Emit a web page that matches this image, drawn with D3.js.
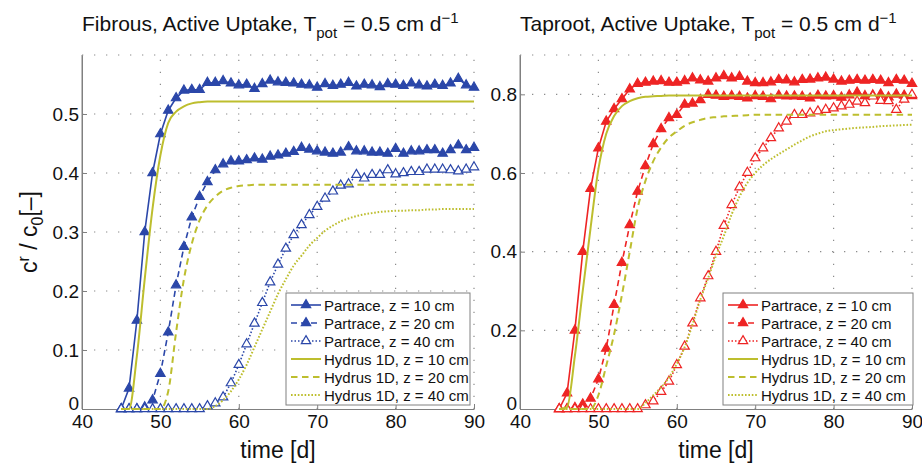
<!DOCTYPE html>
<html>
<head>
<meta charset="utf-8">
<script src="https://cdn.jsdelivr.net/npm/d3@7"></script>
<style>
  body { margin: 0; background: #fff; }
  svg { font-family: "Liberation Sans", Arial, Helvetica, sans-serif; }
</style>
</head>
<body>
<div id="chart"></div>
<script>
// time axis (days) shared by every series
const days = [45, 46, 47, 48, 49, 50, 51, 52, 53, 54, 55, 56, 57, 58, 59, 60, 61, 62, 63, 64, 65, 66, 67,
  68, 69, 70, 71, 72, 73, 74, 75, 76, 77, 78, 79, 80, 81, 82, 83, 84, 85, 86, 87, 88, 89, 90];

// Fibrous, Partrace
const pL10 = [0, 0.035, 0.15, 0.30, 0.40, 0.466, 0.506, 0.527, 0.540, 0.541, 0.541, 0.553, 0.553, 0.556, 0.552,
  0.549, 0.550, 0.543, 0.551, 0.557, 0.554, 0.553, 0.552, 0.550, 0.549, 0.545, 0.551, 0.548, 0.550, 0.553, 0.547,
  0.550, 0.549, 0.546, 0.551, 0.550, 0.548, 0.552, 0.549, 0.547, 0.550, 0.548, 0.552, 0.560, 0.549, 0.545];
const pL20 = [0, 0, 0, 0.003, 0.015, 0.06, 0.13, 0.21, 0.275, 0.325, 0.36, 0.385, 0.405, 0.415, 0.42, 0.42, 0.422,
  0.425, 0.423, 0.428, 0.43, 0.433, 0.436, 0.443, 0.44, 0.437, 0.435, 0.433, 0.435, 0.444, 0.437, 0.437, 0.435,
  0.435, 0.433, 0.441, 0.433, 0.437, 0.437, 0.439, 0.439, 0.433, 0.439, 0.447, 0.439, 0.443];
const pL40 = [0, 0, 0, 0, 0, 0, 0, 0, 0, 0, 0, 0.005, 0.01, 0.02, 0.044, 0.075, 0.11, 0.145, 0.18, 0.215, 0.245,
  0.272, 0.295, 0.312, 0.329, 0.343, 0.357, 0.369, 0.379, 0.381, 0.397, 0.391, 0.397, 0.397, 0.405, 0.398, 0.40,
  0.402, 0.402, 0.406, 0.406, 0.406, 0.405, 0.403, 0.406, 0.41];
// Fibrous, Hydrus 1D
const hL10 = [0, 0, 0.09, 0.22, 0.34, 0.43, 0.485, 0.504, 0.513, 0.518, 0.52, 0.521, 0.521, 0.521, 0.521, 0.521,
  0.521, 0.521, 0.521, 0.521, 0.521, 0.521, 0.521, 0.521, 0.521, 0.521, 0.521, 0.521, 0.521, 0.521, 0.521, 0.521,
  0.521, 0.521, 0.521, 0.521, 0.521, 0.521, 0.521, 0.521, 0.521, 0.521, 0.521, 0.521, 0.521, 0.521];
const hL20 = [0, 0, 0, 0, 0, 0, 0.03, 0.13, 0.22, 0.28, 0.32, 0.345, 0.36, 0.37, 0.375, 0.378, 0.379, 0.38, 0.38,
  0.38, 0.38, 0.38, 0.38, 0.38, 0.38, 0.38, 0.38, 0.38, 0.38, 0.38, 0.38, 0.38, 0.38, 0.38, 0.38, 0.38, 0.38, 0.38,
  0.38, 0.38, 0.38, 0.38, 0.38, 0.38, 0.38, 0.38];
const hL40 = [0, 0, 0, 0, 0, 0, 0, 0, 0, 0, 0, 0, 0.005, 0.015, 0.03, 0.05, 0.075, 0.105, 0.135, 0.165, 0.195,
  0.22, 0.243, 0.26, 0.277, 0.29, 0.302, 0.311, 0.318, 0.323, 0.327, 0.33, 0.332, 0.334, 0.335, 0.336, 0.336,
  0.337, 0.337, 0.338, 0.338, 0.339, 0.339, 0.339, 0.339, 0.339];

// Taproot, Partrace
const pR10 = [0, 0.04, 0.2, 0.4, 0.56, 0.663, 0.731, 0.763, 0.788, 0.813, 0.827, 0.83, 0.833, 0.834, 0.83, 0.83,
  0.834, 0.841, 0.836, 0.833, 0.841, 0.847, 0.841, 0.845, 0.833, 0.829, 0.829, 0.831, 0.837, 0.836, 0.831, 0.837,
  0.838, 0.841, 0.843, 0.838, 0.833, 0.835, 0.837, 0.835, 0.837, 0.835, 0.829, 0.837, 0.835, 0.827];
const pR20 = [0, 0, 0.003, 0.012, 0.027, 0.076, 0.154, 0.265, 0.372, 0.468, 0.553, 0.618, 0.674, 0.712, 0.74,
  0.748, 0.774, 0.777, 0.786, 0.799, 0.797, 0.794, 0.796, 0.794, 0.79, 0.796, 0.794, 0.788, 0.797, 0.795, 0.795,
  0.794, 0.79, 0.797, 0.795, 0.796, 0.792, 0.798, 0.805, 0.796, 0.798, 0.80, 0.793, 0.80, 0.797, 0.796];
const pR40 = [0, 0, 0, 0, 0, 0, 0, 0, 0, 0, 0, 0.01, 0.02, 0.044, 0.07, 0.112, 0.159, 0.218, 0.282, 0.338, 0.40,
  0.466, 0.519, 0.564, 0.601, 0.638, 0.663, 0.689, 0.714, 0.731, 0.748, 0.748, 0.752, 0.757, 0.761, 0.765, 0.77,
  0.774, 0.782, 0.778, 0.795, 0.784, 0.783, 0.761, 0.787, 0.799];
// Taproot, Hydrus 1D
const hR10 = [0, 0.005, 0.135, 0.30, 0.46, 0.61, 0.70, 0.745, 0.77, 0.783, 0.79, 0.794, 0.795, 0.796, 0.797,
  0.797, 0.797, 0.797, 0.797, 0.797, 0.797, 0.797, 0.797, 0.797, 0.797, 0.797, 0.797, 0.797, 0.797, 0.797, 0.797,
  0.797, 0.797, 0.797, 0.797, 0.797, 0.797, 0.797, 0.797, 0.797, 0.797, 0.797, 0.797, 0.797, 0.797, 0.797];
const hR20 = [0, 0, 0, 0, 0, 0.035, 0.11, 0.19, 0.29, 0.40, 0.51, 0.58, 0.63, 0.665, 0.69, 0.706, 0.72, 0.729,
  0.735, 0.74, 0.742, 0.744, 0.745, 0.746, 0.747, 0.748, 0.748, 0.748, 0.748, 0.748, 0.748, 0.748, 0.748, 0.748,
  0.748, 0.748, 0.748, 0.748, 0.748, 0.748, 0.748, 0.748, 0.748, 0.748, 0.748, 0.748];
const hR40 = [0, 0, 0, 0, 0, 0, 0, 0, 0, 0, 0, 0.015, 0.035, 0.055, 0.08, 0.115, 0.157, 0.215, 0.278, 0.333, 0.39,
  0.44, 0.495, 0.54, 0.575, 0.60, 0.62, 0.635, 0.648, 0.66, 0.672, 0.683, 0.693, 0.70, 0.706, 0.709, 0.711, 0.713,
  0.715, 0.716, 0.717, 0.719, 0.72, 0.721, 0.722, 0.723];

const xTicks = [40, 50, 60, 70, 80, 90];
const yTicksL = [0, 0.1, 0.2, 0.3, 0.4, 0.5];
const yTicksR = [0, 0.2, 0.4, 0.6, 0.8];
const depthLabels = ["z = 10 cm", "z = 20 cm", "z = 40 cm"];

const width = 922;
const height = 464;
const plotTop = 55, plotBottom = 409;
const hydrusColor = "#bdbe2e";
const gridColor = "#8c8c8c";
const axisColor = "#808080";
const font = 19;

const svg = d3.select("#chart").append("svg")
  .attr("width", width)
  .attr("height", height);

const panels = [
  { name: "Fibrous", x0: 82, x1: 474, yMax: 0.6, yTicks: yTicksL, color: "#2b47a9",
    partrace: [pL10, pL20, pL40], hydrus: [hL10, hL20, hL40], legend: [286, 470] },
  { name: "Taproot", x0: 520, x1: 912, yMax: 0.9, yTicks: yTicksR, color: "#ee2424",
    partrace: [pR10, pR20, pR40], hydrus: [hR10, hR20, hR40], legend: [723, 913] }
];

const partraceDash = [null, "6,4", "1.5,2"];
const hydrusDash = [null, "6.5,4.5", "1.6,1.8"];
const triangle = d3.symbol(d3.symbolTriangle, 38);

function drawPanel(p) {
  const x = d3.scaleLinear().domain([40, 90]).range([p.x0, p.x1]);
  const y = d3.scaleLinear().domain([0, p.yMax]).range([plotBottom, plotTop]);
  const g = svg.append("g");

  // dotted grid, plus the dotted top and right frame
  g.append("g").selectAll("line")
    .data(xTicks.slice(1))
    .join("line")
    .attr("x1", (d) => x(d)).attr("x2", (d) => x(d))
    .attr("y1", plotBottom).attr("y2", plotTop)
    .attr("stroke", gridColor).attr("stroke-width", 1.2)
    .attr("stroke-dasharray", "1.3,10.7");
  g.append("g").selectAll("line")
    .data(p.yTicks.slice(1).concat([p.yMax]))
    .join("line")
    .attr("x1", p.x0).attr("x2", p.x1)
    .attr("y1", (d) => y(d)).attr("y2", (d) => y(d))
    .attr("stroke", gridColor).attr("stroke-width", 1.2)
    .attr("stroke-dasharray", "1.3,10.7");

  // axes
  const xAxis = g.append("g")
    .attr("transform", `translate(0,${plotBottom})`)
    .call(d3.axisBottom(x).tickValues(xTicks).tickSize(-5).tickSizeOuter(0).tickPadding(6));
  const yAxis = g.append("g")
    .attr("transform", `translate(${p.x0},0)`)
    .call(d3.axisLeft(y).tickValues(p.yTicks).tickSize(-5).tickSizeOuter(0).tickPadding(3)
      .tickFormat((d) => (d === 0 ? "0" : d3.format(".1f")(d))));
  [xAxis, yAxis].forEach((a) => {
    a.select(".domain").attr("stroke", axisColor);
    a.selectAll(".tick line").attr("stroke", axisColor);
    a.selectAll("text").attr("font-size", font).attr("fill", "#111").attr("font-family", null);
  });
  yAxis.selectAll(".tick text").filter((d) => d === 0).attr("y", -6);
  // left frame reaches the top
  g.append("line")
    .attr("x1", p.x0).attr("x2", p.x0).attr("y1", plotTop).attr("y2", plotBottom)
    .attr("stroke", axisColor);

  // Partrace series
  p.partrace.forEach((vals, i) => {
    const pts = days.map((d, k) => [d, vals[k]]);
    g.append("path")
      .datum(pts)
      .attr("fill", "none")
      .attr("stroke", p.color)
      .attr("stroke-width", 1.6)
      .attr("stroke-dasharray", partraceDash[i])
      .attr("d", d3.line().x((d) => x(d[0])).y((d) => y(d[1])));
    g.append("g").selectAll("path")
      .data(pts)
      .join("path")
      .attr("transform", (d) => `translate(${x(d[0])},${y(d[1])})`)
      .attr("d", triangle)
      .attr("fill", i === 2 ? "#fff" : p.color)
      .attr("stroke", p.color)
      .attr("stroke-width", 1.2);
  });

  // Hydrus 1D series
  p.hydrus.forEach((vals, i) => {
    g.append("path")
      .datum(days.map((d, k) => [d, vals[k]]))
      .attr("fill", "none")
      .attr("stroke", hydrusColor)
      .attr("stroke-width", 2)
      .attr("stroke-dasharray", hydrusDash[i])
      .attr("d", d3.line().curve(d3.curveMonotoneX).x((d) => x(d[0])).y((d) => y(d[1])));
  });

  // title
  const title = g.append("text")
    .attr("x", p.x0)
    .attr("y", 31)
    .attr("font-size", 21)
    .attr("fill", "#111");
  title.append("tspan").text(`${p.name}, Active Uptake, T`);
  title.append("tspan").attr("dy", 7).attr("font-size", 15).text("pot");
  title.append("tspan").attr("dy", -7).text(" = 0.5 cm d");
  title.append("tspan").attr("dy", -8).attr("font-size", 15).text("\u22121");

  // x label
  g.append("text")
    .attr("x", (p.x0 + p.x1) / 2)
    .attr("y", 458)
    .attr("text-anchor", "middle")
    .attr("font-size", 23)
    .attr("fill", "#111")
    .text("time [d]");

  // legend
  const [lx0, lx1] = p.legend;
  const legend = g.append("g");
  legend.append("rect")
    .attr("x", lx0).attr("y", 293)
    .attr("width", lx1 - lx0).attr("height", 112)
    .attr("fill", "#fff")
    .attr("stroke", axisColor);
  const rows = depthLabels.map((z, i) => ({ label: `Partrace, ${z}`, kind: "p", i }))
    .concat(depthLabels.map((z, i) => ({ label: `Hydrus 1D, ${z}`, kind: "h", i })));
  rows.forEach((r, j) => {
    const cy = 305 + j * 18;
    const col = r.kind === "p" ? p.color : hydrusColor;
    legend.append("line")
      .attr("x1", lx0 + 5).attr("x2", lx0 + 35)
      .attr("y1", cy).attr("y2", cy)
      .attr("stroke", col)
      .attr("stroke-width", r.kind === "p" ? 1.6 : 2)
      .attr("stroke-dasharray", r.kind === "p" ? partraceDash[r.i] : hydrusDash[r.i]);
    if (r.kind === "p") {
      legend.append("path")
        .attr("transform", `translate(${lx0 + 20},${cy})`)
        .attr("d", triangle)
        .attr("fill", r.i === 2 ? "#fff" : col)
        .attr("stroke", col)
        .attr("stroke-width", 1.2);
    }
    legend.append("text")
      .attr("x", lx0 + 38)
      .attr("y", cy + 5.5)
      .attr("font-size", 15)
      .attr("fill", "#111")
      .text(r.label);
  });
}

panels.forEach(drawPanel);

// y label (left panel only)
const yl = svg.append("text")
  .attr("transform", "translate(37,232) rotate(-90)")
  .attr("text-anchor", "middle")
  .attr("font-size", 23)
  .attr("fill", "#111");
yl.append("tspan").text("c");
yl.append("tspan").attr("dy", -8).attr("font-size", 16).text("r");
yl.append("tspan").attr("dy", 8).text(" / c");
yl.append("tspan").attr("dy", 6).attr("font-size", 16).text("0");
yl.append("tspan").attr("dy", -6).text("[\u2013]");
</script>
</body>
</html>
